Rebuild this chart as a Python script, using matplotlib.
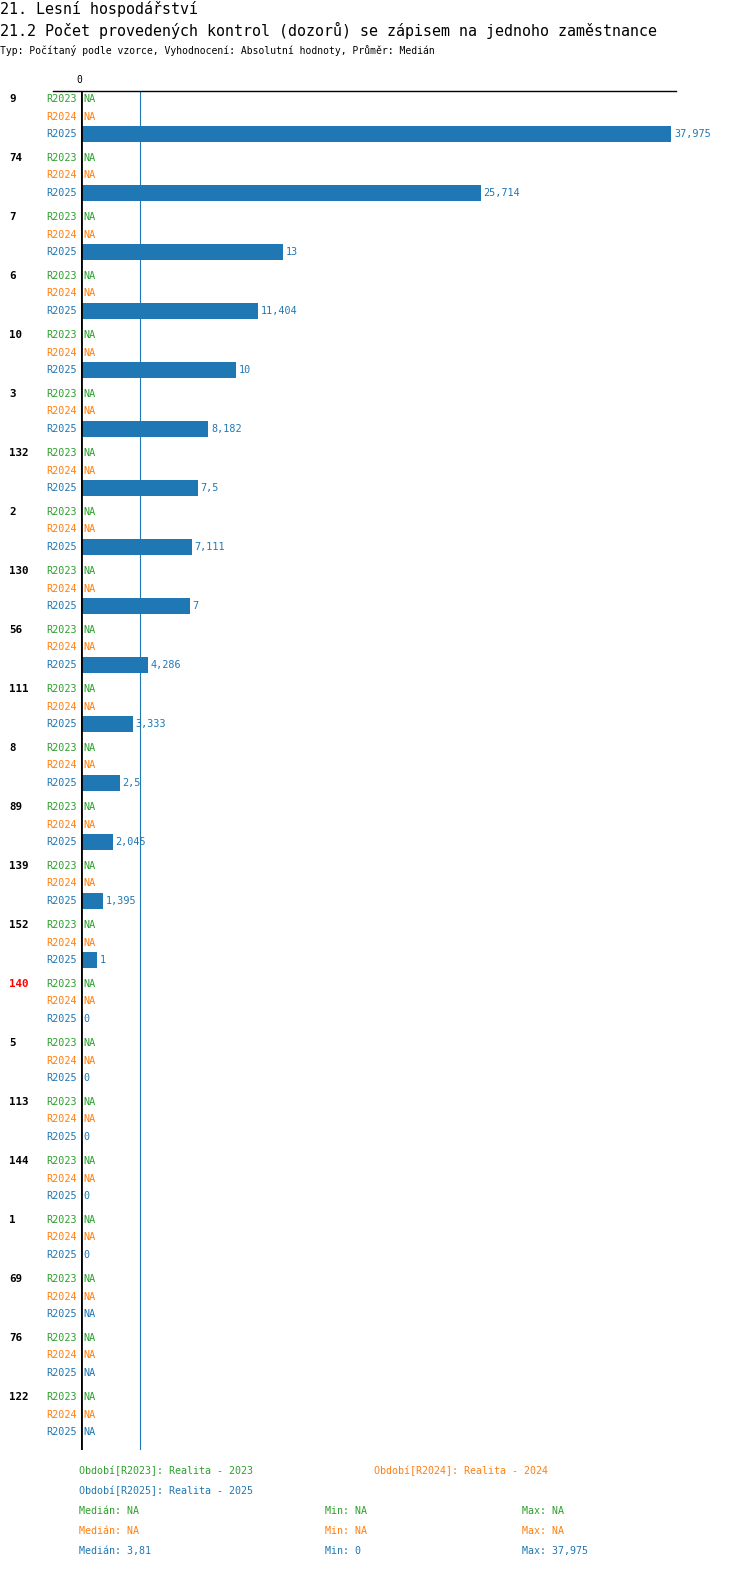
import numpy as np
import matplotlib.pyplot as plt
from matplotlib.lines import Line2D

plt.rcParams['font.family'] = 'DejaVu Sans Mono'
plt.rcParams['font.size'] = 7

# Data
groups = ['9', '74', '7', '6', '10', '3', '132', '2', '130', '56', '111', '8', '89',
          '139', '152', '140', '5', '113', '144', '1', '69', '76', '122']
series = ['R2023', 'R2024', 'R2025']
r2023 = [None] * len(groups)
r2024 = [None] * len(groups)
r2025 = [37.975, 25.714, 13, 11.404, 10, 8.182, 7.5, 7.111, 7, 4.286, 3.333, 2.5,
         2.045, 1.395, 1, 0, 0, 0, 0, 0, None, None, None]
highlight = '140'
median_2025 = 3.81

colors = ['#2ca02c', '#ff7f0e', '#1f77b4']
W, H = 750, 1592


def fx(x):
    return x / W


def fy(y):
    return 1 - y / H


def fmt(v):
    if v is None:
        return 'NA'
    s = ('%.3f' % v).rstrip('0').rstrip('.')
    return s.replace('.', ',')


fig = plt.figure(figsize=(W / 100, H / 100), dpi=100)
# axes region in pixels: x 81..676, y 91..1450
ax = fig.add_axes([fx(81), fy(1450), (676 - 81) / W, (1450 - 91) / H])
ax.set_xlim(0, (676 - 81) / 15.54)
ax.set_ylim(1359, 0)
ax.axis('off')

gstep, rstep, top = 59, 17.5, 8
for g, name in enumerate(groups):
    vals = [r2023[g], r2024[g], r2025[g]]
    for k, v in enumerate(vals):
        y = top + g * gstep + k * rstep
        if v is not None and v > 0:
            ax.barh(y, v, height=16, color=colors[k])
        xv = v if v is not None else 0
        ax.annotate(fmt(v), (xv, y), xytext=(2, 0), textcoords='offset points',
                    va='center', ha='left', color=colors[k], fontsize=7.3)
        ax.annotate(series[k], (0, y), xytext=(-3, 0), textcoords='offset points',
                    va='center', ha='right', color=colors[k], fontsize=7.3)
    ax.annotate(name, (0, top + g * gstep), xycoords=('figure fraction', 'data'),
                xytext=(9 * 0.72, 0), textcoords='offset points', va='center',
                ha='left', fontweight='bold', fontsize=7.8,
                color='red' if name == highlight else 'black')

ax.axvline(median_2025, color=colors[2], lw=0.8)
ax.axvline(0, color='black', lw=2)
fig.add_artist(Line2D([fx(53), fx(676)], [fy(91), fy(91)], color='black', lw=1))
fig.text(fx(79), fy(80), '0', ha='center', va='center', fontsize=7)

# header
fig.text(0, fy(9), '21. Lesní hospodářství', fontsize=10.8, va='center')
fig.text(0, fy(30), '21.2 Počet provedených kontrol (dozorů) se zápisem na jednoho zaměstnance',
         fontsize=10.8, va='center')
fig.text(0, fy(50), 'Typ: Počítaný podle vzorce, Vyhodnocení: Absolutní hodnoty, Průměr: Medián',
         fontsize=7, va='center')

# legend
fig.text(fx(79), fy(1471), 'Období[R2023]: Realita - 2023', color=colors[0], va='center', fontsize=7.2)
fig.text(fx(374), fy(1471), 'Období[R2024]: Realita - 2024', color=colors[1], va='center', fontsize=7.2)
fig.text(fx(79), fy(1491), 'Období[R2025]: Realita - 2025', color=colors[2], va='center', fontsize=7.2)

for k, vals in enumerate([r2023, r2024, r2025]):
    nums = [v for v in vals if v is not None]
    if nums:
        med, mn, mx = median_2025, min(nums), max(nums)
    else:
        med = mn = mx = None
    y = fy(1511 + k * 20)
    fig.text(fx(79), y, 'Medián: ' + fmt(med), color=colors[k], va='center', fontsize=7.2)
    fig.text(fx(325), y, 'Min: ' + fmt(mn), color=colors[k], va='center', fontsize=7.2)
    fig.text(fx(522), y, 'Max: ' + fmt(mx), color=colors[k], va='center', fontsize=7.2)

fig.savefig('out.png', dpi=100)
